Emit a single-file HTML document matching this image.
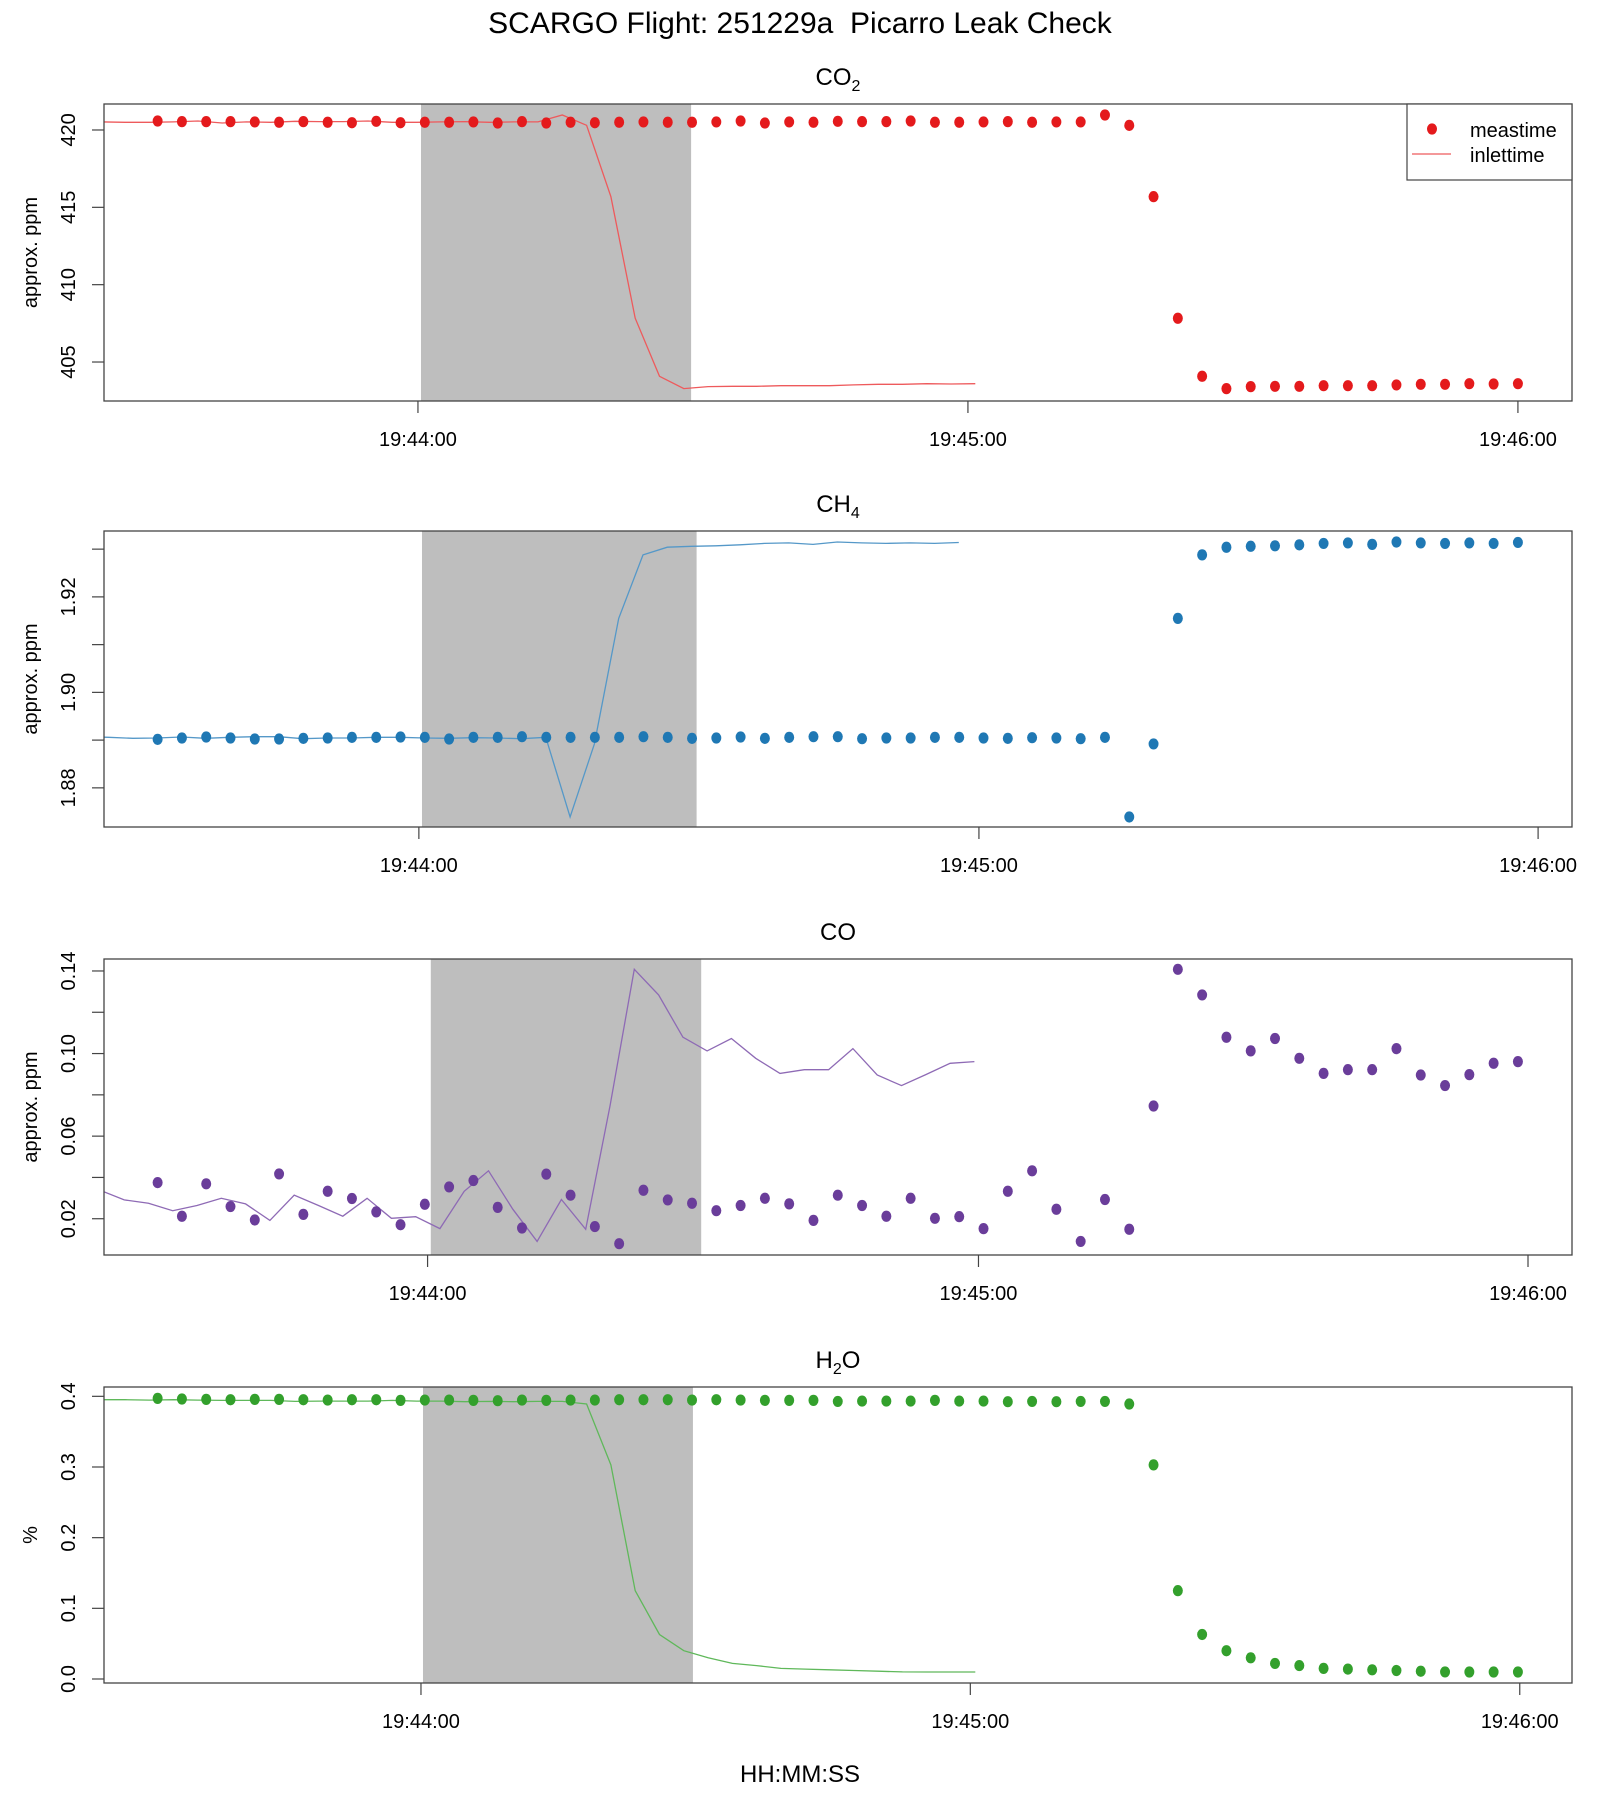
<!DOCTYPE html>
<html><head><meta charset="utf-8"><title>SCARGO Flight 251229a Picarro Leak Check</title>
<style>
html,body{margin:0;padding:0;background:#fff;}
svg{display:block;font-family:"Liberation Sans",Arial,sans-serif;}
</style></head>
<body>
<svg id="chart" width="1600" height="1800" viewBox="0 0 1600 1800" xmlns="http://www.w3.org/2000/svg">
<rect x="0" y="0" width="1600" height="1800" fill="#fff"/>
<text x="800" y="33" font-size="30" text-anchor="middle" fill="#000" style="white-space:pre" xml:space="preserve">SCARGO Flight: 251229a  Picarro Leak Check</text>
<text x="800" y="1782" font-size="24" text-anchor="middle" fill="#000">HH:MM:SS</text>
<g id="panels"></g>
</svg>
<script>
// measurement times, seconds after 19:44:00
const measTime = [-28.40,-25.75,-23.10,-20.45,-17.80,-15.15,-12.50,-9.85,-7.20,-4.55,-1.90,0.75,3.40,6.05,8.70,11.35,14.00,16.65,19.30,21.95,24.60,27.25,29.90,32.55,35.20,37.85,40.50,43.15,45.80,48.45,51.10,53.75,56.40,59.05,61.70,64.35,67.00,69.65,72.30,74.95,77.60,80.25,82.90,85.55,88.20,90.85,93.50,96.15,98.80,101.45,104.10,106.75,109.40,112.05,114.70,117.35,120.00];
const co2Values = [420.58,420.54,420.54,420.54,420.52,420.50,420.54,420.50,420.47,420.56,420.47,420.50,420.50,420.52,420.45,420.54,420.45,420.50,420.47,420.50,420.52,420.50,420.50,420.52,420.58,420.45,420.52,420.50,420.56,420.54,420.54,420.58,420.50,420.50,420.52,420.54,420.50,420.52,420.52,420.97,420.30,415.69,407.83,404.08,403.28,403.41,403.43,403.43,403.47,403.47,403.47,403.52,403.56,403.56,403.60,403.58,403.60];
const ch4Values = [1.89016,1.89044,1.89065,1.89044,1.89023,1.89023,1.89037,1.89044,1.89058,1.89058,1.89065,1.89058,1.89023,1.89058,1.89058,1.89072,1.89058,1.89058,1.89058,1.89058,1.89072,1.89058,1.89037,1.89044,1.89065,1.89037,1.89058,1.89072,1.89072,1.89030,1.89044,1.89044,1.89058,1.89058,1.89044,1.89037,1.89051,1.89044,1.89030,1.89058,1.8739,1.8892,1.9155,1.9288,1.9304,1.9306,1.9307,1.9309,1.9312,1.9313,1.9310,1.9315,1.9313,1.9312,1.9313,1.9312,1.9314];
const coValues = [0.0375,0.0212,0.0369,0.0259,0.0194,0.0417,0.0221,0.0333,0.0298,0.0233,0.0171,0.0270,0.0354,0.0385,0.0255,0.0155,0.0416,0.0314,0.0162,0.0079,0.0338,0.0291,0.0275,0.0239,0.0264,0.0299,0.0272,0.0192,0.0314,0.0264,0.0212,0.0299,0.0202,0.0210,0.0152,0.0333,0.0432,0.0246,0.0090,0.0293,0.0149,0.0746,0.1408,0.1284,0.1079,0.1013,0.1073,0.0977,0.0904,0.0922,0.0922,0.1024,0.0896,0.0845,0.0898,0.0953,0.0961];
const h2oValues = [0.3971,0.3962,0.3957,0.3952,0.3957,0.3957,0.3952,0.3947,0.3952,0.3952,0.3943,0.3947,0.3947,0.3943,0.3938,0.3947,0.3943,0.3947,0.3947,0.3952,0.3952,0.3952,0.3947,0.3952,0.3947,0.3943,0.3943,0.3943,0.3928,0.3933,0.3933,0.3933,0.3943,0.3933,0.3933,0.3924,0.3928,0.3924,0.3928,0.3928,0.3891,0.303,0.125,0.063,0.040,0.030,0.022,0.019,0.015,0.014,0.013,0.012,0.011,0.010,0.0099,0.0099,0.0099];
// inlet lag (s) per panel
const inletLags = [59.2, 61.0, 59.3, 59.2];
// shaded interval (s) per panel
const shadeStarts = [0.33, 0.44, 1.4, 0.55];
const shadeEnds = [29.8, 30.4, 30.9, 30.0];
// x tick times (s) per panel and labels
const xTickLabels = ["19:44:00","19:45:00","19:46:00"];
const xTickTimes1 = [0, 60, 120];
const xTickTimes2 = [0.1, 61.2, 122.2];
const xTickTimes3 = [1.05, 61.15, 121.1];
const xTickTimes4 = [0.33, 60.26, 120.2];
// y ticks
const yTicks1 = [405, 410, 415, 420];
const yTickLabels1 = ["405","410","415","420"];
const yTicks2 = [1.88, 1.89, 1.90, 1.91, 1.92, 1.93];
const yTickLabels2 = ["1.88","","1.90","","1.92",""];
const yTicks3 = [0.02, 0.04, 0.06, 0.08, 0.10, 0.12, 0.14];
const yTickLabels3 = ["0.02","","0.06","","0.10","","0.14"];
const yTicks4 = [0.0, 0.1, 0.2, 0.3, 0.4];
const yTickLabels4 = ["0.0","0.1","0.2","0.3","0.4"];

const NS = "http://www.w3.org/2000/svg";
const plotLeft = 104, plotRight = 1572;
const tMin = -34.25, tMax = 125.9;
function xScale(t){ return plotLeft + (t - tMin) / (tMax - tMin) * (plotRight - plotLeft); }
function mk(tag, attrs, parent){
  const e = document.createElementNS(NS, tag);
  for (const k in attrs) e.setAttribute(k, attrs[k]);
  parent.appendChild(e);
  return e;
}
const panels = [
  {key:"co2", title:["CO","2"], top:104, bottom:401, yMin:402.48, yMax:421.68, values:co2Values, color:"#e41a1c", line:"#ee5a5c", yt:yTicks1, yl:yTickLabels1, xt:xTickTimes1, ytitle:"approx. ppm"},
  {key:"ch4", title:["CH","4"], top:531, bottom:827, yMin:1.8718, yMax:1.9338, values:ch4Values, color:"#1f78b4", line:"#5598c8", yt:yTicks2, yl:yTickLabels2, xt:xTickTimes2, ytitle:"approx. ppm"},
  {key:"co", title:["CO",""], top:959, bottom:1255, yMin:0.00243, yMax:0.1458, values:coValues, color:"#6a3d9a", line:"#8e6ab5", yt:yTicks3, yl:yTickLabels3, xt:xTickTimes3, ytitle:"approx. ppm"},
  {key:"h2o", title:["H","2","O"], top:1387, bottom:1683, yMin:-0.00567, yMax:0.4132, values:h2oValues, color:"#33a02c", line:"#5fb85a", yt:yTicks4, yl:yTickLabels4, xt:xTickTimes4, ytitle:"%"}
];
const root = document.getElementById("panels");
panels.forEach((p, pi) => {
  const g = mk("g", {}, root);
  
  
  const ys = v => p.bottom - (v - p.yMin) / (p.yMax - p.yMin) * (p.bottom - p.top);
  const cid = "clip-" + p.key;
  const defs = mk("defs", {}, g);
  const cp = mk("clipPath", {id: cid}, defs);
  mk("rect", {x: plotLeft, y: p.top, width: plotRight - plotLeft, height: p.bottom - p.top}, cp);
  const sh = mk("rect", {x: xScale(shadeStarts[pi]), y: p.top, width: xScale(shadeEnds[pi]) - xScale(shadeStarts[pi]), height: p.bottom - p.top, fill: "#bebebe"}, g);
  
  
  const pts = p.values.map((v, i) => xScale(measTime[i] - inletLags[pi]).toFixed(1) + "," + ys(v).toFixed(1)).join(" ");
  const ln = mk("polyline", {points: pts, fill: "none", stroke: p.line, "stroke-width": 1.3, "clip-path": "url(#" + cid + ")"}, g);
  
  
  p.values.forEach((v, i) => {
    const c = mk("ellipse", {cx: xScale(measTime[i]), cy: ys(v), rx: 5, ry: 5.6, fill: p.color}, g);
    
    
  });
  const fr = mk("rect", {x: plotLeft, y: p.top, width: plotRight - plotLeft, height: p.bottom - p.top, fill: "none", stroke: "#444", "stroke-width": 1.3}, g);
  
  
  p.yt.forEach((v, k) => {
    const y = ys(v);
    const tk = mk("line", {x1: plotLeft - 12, x2: plotLeft, y1: y, y2: y, stroke: "#444", "stroke-width": 1.2}, g);
    
    
    if (p.yl[k]) {
      const t = mk("text", {x: 75, y: y, "font-size": 20, "text-anchor": "middle", transform: "rotate(-90 75 " + y + ")"}, g);
      t.textContent = p.yl[k];
      
      
    }
  });
  p.xt.forEach((tt, k) => {
    const x = xScale(tt);
    const tk = mk("line", {x1: x, x2: x, y1: p.bottom, y2: p.bottom + 12, stroke: "#444", "stroke-width": 1.2}, g);
    
    
    const t = mk("text", {x: x, y: p.bottom + 45, "font-size": 20, "text-anchor": "middle"}, g);
    t.textContent = xTickLabels[k];
    
    
  });
  const cy = (p.top + p.bottom) / 2;
  const yt = mk("text", {x: 37, y: cy, "font-size": 20, "text-anchor": "middle", transform: "rotate(-90 37 " + cy + ")"}, g);
  yt.textContent = p.ytitle;
  
  
  const tt = mk("text", {x: (plotLeft + plotRight) / 2, y: p.top - 19, "font-size": 24, "text-anchor": "middle"}, g);
  
  
  const s1 = mk("tspan", {}, tt); s1.textContent = p.title[0];
  if (p.title[1]) { const s2 = mk("tspan", {"font-size": 16, dy: 6}, tt); s2.textContent = p.title[1]; }
  if (p.title[2]) { const s3 = mk("tspan", {dy: -6}, tt); s3.textContent = p.title[2]; }
});
const lg = mk("g", {}, root);


mk("rect", {x: 1407, y: 104, width: 165, height: 76, fill: "#fff", stroke: "#444", "stroke-width": 1.2}, lg);
const ld = mk("ellipse", {cx: 1432, cy: 129, rx: 5, ry: 5.6, fill: "#e41a1c"}, lg);


const ll = mk("line", {x1: 1412, x2: 1451, y1: 154, y2: 154, stroke: "#ee5a5c", "stroke-width": 1.3}, lg);


const lt1 = mk("text", {x: 1470, y: 137, "font-size": 20}, lg);
lt1.textContent = "meastime";


const lt2 = mk("text", {x: 1470, y: 162, "font-size": 20}, lg);
lt2.textContent = "inlettime";


</script>
</body></html>
